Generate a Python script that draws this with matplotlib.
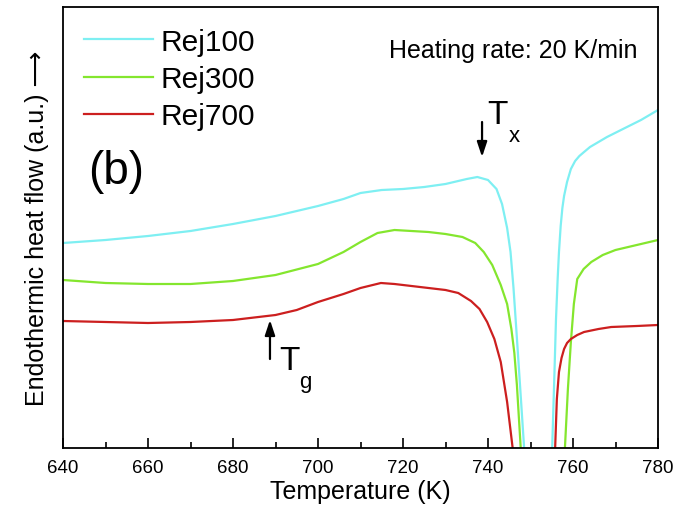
import matplotlib
matplotlib.use("Agg")
import matplotlib.pyplot as plt
from matplotlib.ticker import MultipleLocator

plt.rcParams['font.family'] = ['Liberation Sans', 'DejaVu Sans']

# Temperature (K) and heat flow (a.u.)
t_rej100 = [640, 650, 660, 670, 680, 690, 700, 706, 710, 715, 720, 725, 730, 735, 737.5,
            740, 742, 743.3, 744.5, 745.3, 746, 746.8, 747.5, 748.5, 750, 752,
            754, 755.1, 755.6, 756, 756.4, 756.7, 757.1, 757.5, 757.9, 758.6, 759.5, 760.5,
            761.5, 762.6, 764, 765.6, 768, 772.7, 776, 780]
hf_rej100 = [205, 208, 212, 217, 224, 232, 242, 249, 255, 258, 259, 261, 264, 269, 271,
             268, 259, 244, 220, 196, 160, 110, 65, 0, -80, -150,
             -80, 0, 70, 129, 170, 196, 222, 240, 252, 266, 279, 287,
             292, 296, 301, 305, 311, 321, 328, 338]

t_rej300 = [640, 650, 660, 670, 680, 690, 700, 706, 710, 714, 718, 722, 726, 730, 734, 737,
            739, 741, 743, 744.5, 745.5, 746.2, 746.8, 747.7, 750, 753,
            756, 758.1, 758.8, 759.5, 760.2, 761, 762.5, 764.3, 767, 770, 775, 780]
hf_rej300 = [168, 165, 164, 164, 167, 173, 184, 196, 206, 215, 218, 217, 216, 214, 211, 205,
             196, 183, 163, 144, 119, 95, 63, 0, -80, -120,
             -70, 0, 59, 106, 144, 169, 179, 186, 193, 198, 203, 208]

t_rej700 = [640, 650, 660, 670, 680, 690, 695, 700, 706, 710, 714.8, 718, 722, 726, 730,
            733, 736, 738, 739.8, 741.5, 743, 744.5, 745.8, 748, 751,
            754, 755.8, 756.2, 756.7, 757.3, 757.9, 758.6, 759.5, 761, 762.6, 766, 769, 775, 780]
hf_rej700 = [127, 126, 125, 126, 128, 133, 138, 146, 154, 160, 165, 164, 162, 160, 158,
             155, 147, 139, 126, 109, 86, 46, 0, -70, -100,
             -70, 0, 49, 76, 90, 99, 105, 109, 113, 116, 119, 121, 122, 123]

series_names = ['Rej100', 'Rej300', 'Rej700']
series_colors = ['#7EEFF2', '#84E62E', '#CC1F1F']
x_ticks = [640, 660, 680, 700, 720, 740, 760, 780]

fig = plt.figure(figsize=(6.88, 5.06), dpi=100)
ax = fig.add_axes([63/688, 1-449/506, (658-63)/688, (449-8)/506])

for t, h, name, c in zip([t_rej100, t_rej300, t_rej700],
                         [hf_rej100, hf_rej300, hf_rej700],
                         series_names, series_colors):
    ax.plot(t, h, color=c, lw=1.6, label=name, solid_joinstyle='round')

ax.set_xlim(640, 780)
ax.set_ylim(0, 441)
ax.set_xticks(x_ticks)
ax.xaxis.set_minor_locator(MultipleLocator(10))
ax.set_yticks([])
ax.tick_params(axis='x', which='major', direction='in', length=7, width=1.2,
               labelsize=13.5, pad=8)
ax.tick_params(axis='x', which='minor', direction='in', length=4, width=1.2)
for s in ax.spines.values():
    s.set_linewidth(1.3)

ax.set_xlabel('Temperature (K)', fontsize=18, labelpad=2)
ax.set_ylabel('Endothermic heat flow (a.u.) \u27f6', fontsize=18, labelpad=10)

leg = ax.legend(loc='upper left', frameon=False, fontsize=21.5, handlelength=2.3,
                handletextpad=0.27, labelspacing=0.31, borderaxespad=0.3,
                bbox_to_anchor=(0.0, 1.0))

ax.text(0.042, 0.628, '(b)', transform=ax.transAxes, fontsize=33, va='center', ha='left')
ax.text(0.966, 0.903, 'Heating rate: 20 K/min', transform=ax.transAxes, fontsize=18,
        ha='right', va='center')

arrow_style = dict(arrowstyle='-|>,head_length=0.9,head_width=0.3', color='black', lw=1.6,
                   shrinkA=0, shrinkB=0)
# Tx annotation
ax.annotate('', xy=(738.6, 449-158), xytext=(738.6, 449-123), arrowprops=arrow_style)
ax.text(739.8, 449-116, 'T', fontsize=24, ha='left', va='center')
ax.text(744.8, 449-137, 'x', fontsize=16, ha='left', va='center')

# Tg annotation
ax.annotate('', xy=(688.7, 449-321), xytext=(688.7, 449-360), arrowprops=arrow_style)
ax.text(690.8, 449-362, 'T', fontsize=24, ha='left', va='center')
ax.text(695.5, 449-383, 'g', fontsize=16, ha='left', va='center')

fig.savefig('out.png', dpi=100)
